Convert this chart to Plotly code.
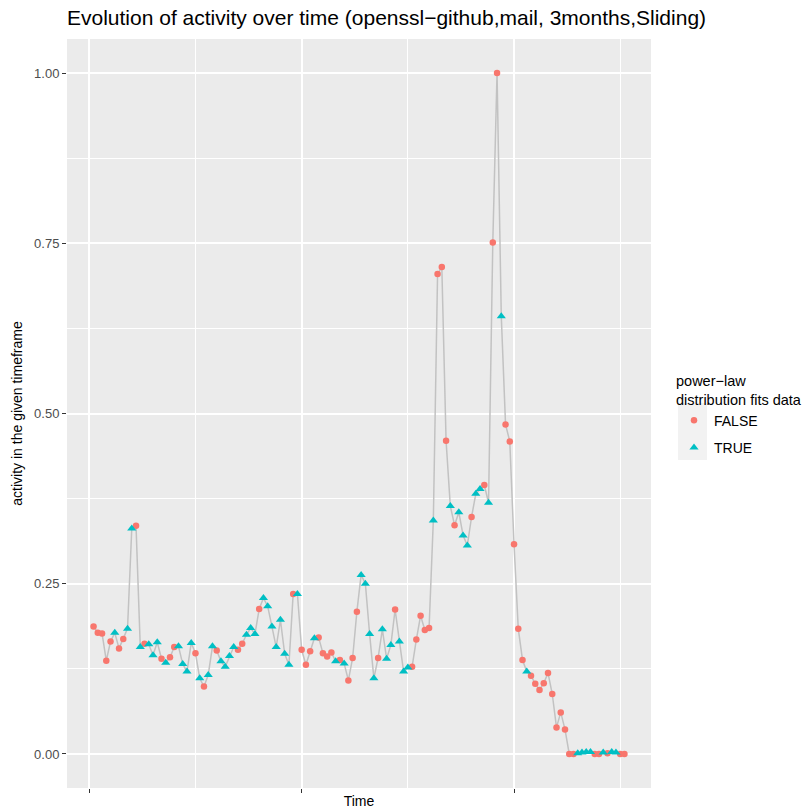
import plotly.graph_objects as go

# ---- data ----
activity = [
    0.187, 0.178, 0.177, 0.137, 0.165, 0.178, 0.155, 0.169, 0.184, 0.331,
    0.335, 0.157, 0.162, 0.161, 0.145, 0.164, 0.140, 0.134, 0.142, 0.157,
    0.158, 0.132, 0.121, 0.163, 0.148, 0.111, 0.099, 0.116, 0.158, 0.152,
    0.136, 0.128, 0.144, 0.157, 0.153, 0.162, 0.175, 0.185, 0.176, 0.213,
    0.229, 0.217, 0.187, 0.157, 0.197, 0.147, 0.131, 0.235, 0.235, 0.153,
    0.131, 0.151, 0.170, 0.171, 0.148, 0.143, 0.149, 0.136, 0.138, 0.133,
    0.108, 0.141, 0.209, 0.263, 0.250, 0.176, 0.111, 0.141, 0.183, 0.140,
    0.160, 0.212, 0.165, 0.121, 0.127, 0.128, 0.168, 0.203, 0.182, 0.185,
    0.343, 0.705, 0.715, 0.460, 0.364, 0.336, 0.355, 0.321, 0.306, 0.348,
    0.382, 0.389, 0.395, 0.369, 0.751, 1.000, 0.643, 0.484, 0.459, 0.308,
    0.184, 0.138, 0.121, 0.115, 0.103, 0.094, 0.104, 0.119, 0.088, 0.039,
    0.061, 0.036, 0.000, 0.000, 0.001, 0.002, 0.003, 0.003, 0.000, 0.000,
    0.002, 0.001, 0.003, 0.002, 0.000, 0.000,
]
fits = [
    0, 0, 0, 0, 0, 1, 0, 0, 1, 1,
    0, 1, 0, 1, 1, 1, 0, 1, 0, 0,
    1, 1, 1, 1, 0, 1, 0, 1, 1, 0,
    1, 1, 1, 1, 0, 0, 1, 1, 1, 0,
    1, 1, 1, 1, 1, 1, 1, 0, 1, 0,
    0, 0, 1, 0, 0, 0, 0, 1, 0, 1,
    0, 0, 0, 1, 1, 1, 1, 0, 1, 1,
    1, 0, 1, 1, 1, 0, 0, 0, 0, 0,
    1, 0, 0, 0, 1, 0, 1, 1, 1, 0,
    1, 1, 0, 1, 0, 0, 1, 0, 0, 0,
    0, 0, 1, 0, 0, 0, 0, 0, 0, 0,
    0, 0, 0, 0, 1, 1, 1, 1, 0, 0,
    1, 0, 1, 1, 0, 0,
]
time_index = list(range(1, len(activity) + 1))
y_ticks = [0.0, 0.25, 0.5, 0.75, 1.0]
legend_labels = ["FALSE", "TRUE"]

x_false = [t for t, f in zip(time_index, fits) if not f]
y_false = [v for v, f in zip(activity, fits) if not f]
x_true = [t for t, f in zip(time_index, fits) if f]
y_true = [v for v, f in zip(activity, fits) if f]

fig = go.Figure()
fig.add_trace(go.Scatter(x=time_index, y=activity, mode="lines",
                         line=dict(color="#C2C2C2", width=1.5),
                         showlegend=False, hoverinfo="skip"))
fig.add_trace(go.Scatter(x=x_false, y=y_false, mode="markers", name=legend_labels[0],
                         legendgroup="f",
                         marker=dict(symbol="circle", size=6.5, color="#F8766D",
                                     line=dict(width=0))))
fig.add_trace(go.Scatter(x=x_true, y=y_true, mode="markers", name=legend_labels[1],
                         legendgroup="t",
                         marker=dict(symbol="triangle-up", size=8, color="#00BFC4",
                                     line=dict(width=0))))

n = len(time_index)
span = n - 1
xr = [1 - 0.05 * span, n + 0.05 * span]

# legend key background (ggplot style)
fig.add_shape(type="rect", xref="paper", yref="paper",
              x0=(678 - 67) / 584, x1=(707 - 67) / 584,
              y0=(788 - 460) / 749, y1=(788 - 403) / 749,
              fillcolor="#F2F2F2", line=dict(width=0), layer="below")

fig.update_layout(
    width=806, height=812,
    margin=dict(l=67, r=155, t=39, b=24),
    paper_bgcolor="white", plot_bgcolor="#EBEBEB",
    font=dict(family="Liberation Sans, Arial, sans-serif", color="black"),
    title=dict(text="Evolution of activity over time (openssl\u2212github,mail, 3months,Sliding)",
               x=67 / 806, xanchor="left", xref="container",
               y=1 - 18 / 812, yanchor="middle", yref="container",
               font=dict(size=21, color="black")),
    xaxis=dict(range=xr, showgrid=True, gridcolor="white", gridwidth=2,
               tickvals=[0, 50, 100], showticklabels=False, automargin=False,
               ticks="outside", ticklen=4, tickcolor="#333333", tickwidth=1,
               zeroline=False, showline=False,
               minor=dict(tickvals=[25, 75, 125], showgrid=True, gridcolor="white",
                          gridwidth=1, ticks=""),
               title=dict(text="Time", font=dict(size=14, color="black"), standoff=4)),
    yaxis=dict(range=[-0.05, 1.05], showgrid=True, gridcolor="white", gridwidth=2,
               tickvals=y_ticks, tickformat=".2f", automargin=False,
               tickfont=dict(size=13, color="#4D4D4D"),
               ticks="outside", ticklen=4, tickcolor="#333333", tickwidth=1,
               zeroline=False, showline=False,
               minor=dict(tickvals=[0.125, 0.375, 0.625, 0.875], showgrid=True,
                          gridcolor="white", gridwidth=1, ticks=""),
               title=dict(text="activity in the given timeframe",
                          font=dict(size=14, color="black"), standoff=8)),
    legend=dict(title=dict(text="power\u2212law<br>distribution fits data",
                           font=dict(size=14.5, color="black")),
                font=dict(size=14, color="black"),
                x=674 / 806, xref="container", xanchor="left",
                y=1 - 367 / 812, yref="container", yanchor="top",
                bgcolor="rgba(0,0,0,0)", tracegroupgap=6),
)

fig.write_html("out.html")
